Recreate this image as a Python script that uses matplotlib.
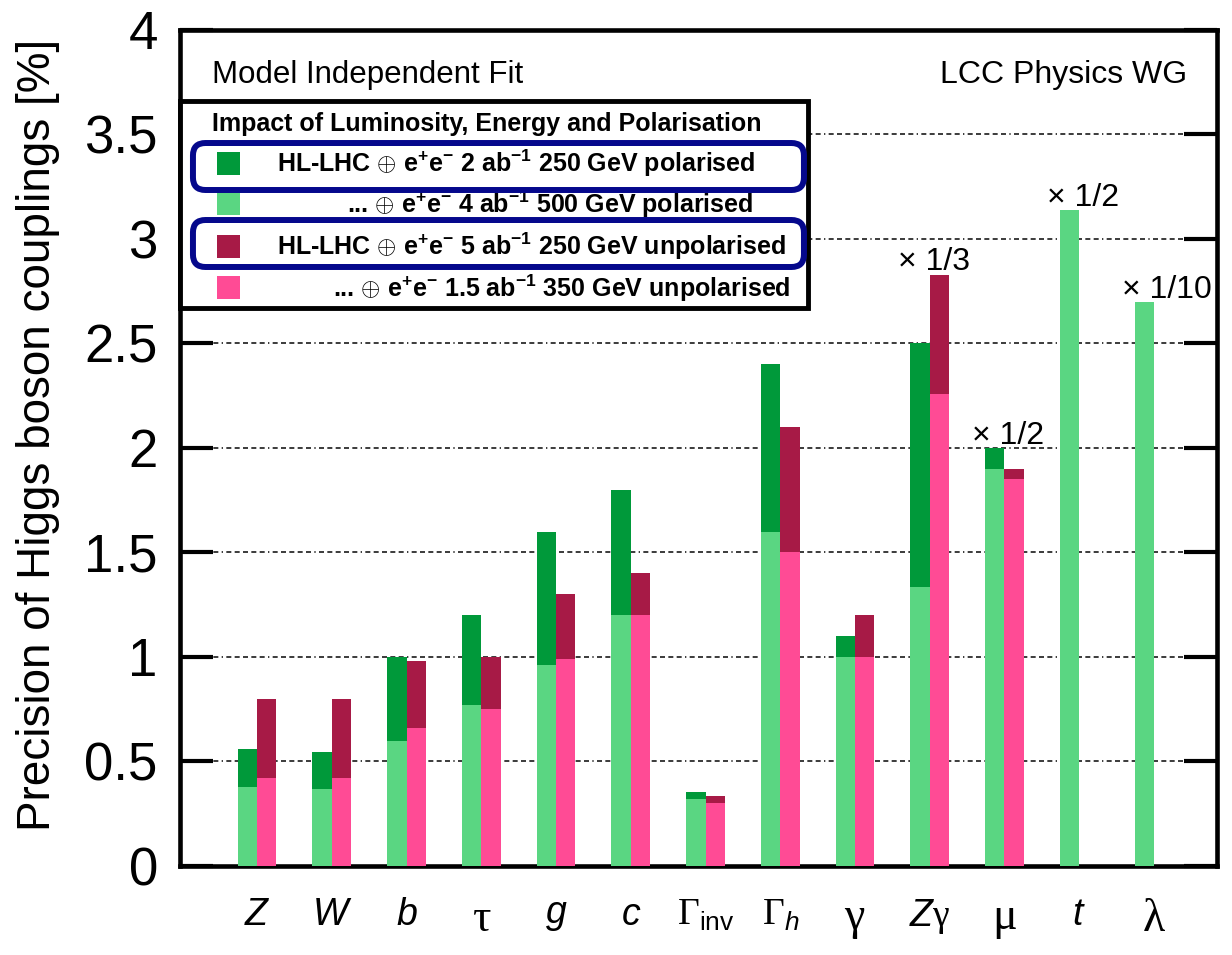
import numpy as np
import matplotlib
matplotlib.use('Agg')
import matplotlib.pyplot as plt
from matplotlib.patches import Rectangle, FancyBboxPatch

plt.rcParams['font.family'] = ['Liberation Sans', 'DejaVu Sans']
plt.rcParams['mathtext.fontset'] = 'custom'
plt.rcParams['mathtext.rm'] = 'Liberation Serif'
plt.rcParams['mathtext.it'] = 'Liberation Sans:italic'
plt.rcParams['mathtext.bf'] = 'Liberation Sans:bold'
plt.rcParams['mathtext.sf'] = 'Liberation Sans'

# coupling labels
couplings = [r'$Z$', r'$W$', r'$b$', r'$\mathrm{\tau}$', r'$g$', r'$c$',
             r'$\Gamma_{\mathsf{inv}}$', r'$\Gamma_{h}$', r'$\mathrm{\gamma}$',
             r'$Z\mathrm{\gamma}$', r'$\mathrm{\mu}$', r'$t$', r'$\mathrm{\lambda}$']
greek_only = [3, 8, 10, 12]

# relative precision [%] per scenario (nan = not shown)
nan = np.nan
pol_250 = [0.56, 0.545, 1.00, 1.20, 1.60, 1.80, 0.355, 2.40, 1.10, 2.50, 2.00, nan, nan]
pol_500 = [0.38, 0.37, 0.60, 0.77, 0.96, 1.20, 0.32, 1.60, 1.00, 1.335, 1.90, 3.14, 2.70]
unpol_250 = [0.80, 0.80, 0.98, 1.00, 1.30, 1.40, 0.335, 2.10, 1.20, 2.83, 1.90, nan, nan]
unpol_350 = [0.42, 0.42, 0.66, 0.75, 0.99, 1.20, 0.30, 1.50, 1.00, 2.26, 1.85, nan, nan]

# rescaled couplings: index -> factor label
scaled_idx = [9, 10, 11, 12]
scaled_txt = ['\u00d7 1/3', '\u00d7 1/2', '\u00d7 1/2', '\u00d7 1/10']

yticks = [0, 0.5, 1, 1.5, 2, 2.5, 3, 3.5, 4]
ytick_labels = ['0', '0.5', '1', '1.5', '2', '2.5', '3', '3.5', '4']

legend_labels = [
    r'HL-LHC $\oplus$ e$^{\mathbf{+}}$e$^{\mathbf{-}}$ 2 ab$^{\mathbf{-1}}$ 250 GeV polarised',
    r'... $\oplus$ e$^{\mathbf{+}}$e$^{\mathbf{-}}$ 4 ab$^{\mathbf{-1}}$ 500 GeV polarised',
    r'HL-LHC $\oplus$ e$^{\mathbf{+}}$e$^{\mathbf{-}}$ 5 ab$^{\mathbf{-1}}$ 250 GeV unpolarised',
    r'... $\oplus$ e$^{\mathbf{+}}$e$^{\mathbf{-}}$ 1.5 ab$^{\mathbf{-1}}$ 350 GeV unpolarised',
]

c_dgreen = '#00993A'
c_lgreen = '#5AD682'
c_dred = '#A71A46'
c_pink = '#FF4B95'
c_navy = '#05088C'
colors = [c_dgreen, c_lgreen, c_dred, c_pink]

fig = plt.figure(figsize=(12.32, 9.55), dpi=100)
ax = fig.add_axes([0.1461, 0.0932, 0.8417, 0.8754])

x = np.arange(len(couplings))
w = 0.26

ax.bar(x - w / 2, pol_250, width=w, color=c_dgreen, zorder=2)
ax.bar(x - w / 2, pol_500, width=w, color=c_lgreen, zorder=3)
ax.bar(x + w / 2, unpol_250, width=w, color=c_dred, zorder=2)
ax.bar(x + w / 2, unpol_350, width=w, color=c_pink, zorder=3)

# scale-factor notes above the rescaled bars
for i, txt in zip(scaled_idx, scaled_txt):
    top = np.nanmax([pol_250[i], pol_500[i], unpol_250[i], unpol_350[i]])
    ax.text(i - 0.43, top + 0.02, txt, fontsize=23, ha='left', va='baseline', zorder=5)

ax.set_xlim(-1.031, 12.843)
ax.set_ylim(0, 4)
ax.set_xticks(x)
ax.set_xticklabels(couplings, fontsize=27)
for i in greek_only:
    ax.get_xticklabels()[i].set_fontsize(33)
ax.set_yticks(yticks)
ax.set_yticklabels(ytick_labels, fontsize=38)
ax.tick_params(axis='x', length=0, pad=22)
ax.tick_params(axis='y', direction='in', length=24, width=3, left=True, right=True, pad=16)

for sp in ax.spines.values():
    sp.set_linewidth(3.3)

ax.set_axisbelow(True)
ax.yaxis.grid(True, color='#1a1a1a', linewidth=1.2,
              linestyle=(0, (3, 2, 3, 2, 3, 2, 3, 2, 3, 2, 0.8, 2)))

ax.set_ylabel('Precision of Higgs boson couplings [%]', fontsize=33)
ax.yaxis.set_label_coords(-0.1157, 0.5156)

ax.text(0.0309, 0.9366, 'Model Independent Fit', transform=ax.transAxes,
        fontsize=22.5, ha='left', va='baseline')
ax.text(0.971, 0.9366, 'LCC Physics WG', transform=ax.transAxes,
        fontsize=23, ha='right', va='baseline')

# legend panel
ax.add_patch(Rectangle((0, 0.6675), 0.6056, 0.9151 - 0.6675, transform=ax.transAxes,
                       facecolor='white', edgecolor='black', linewidth=3.5,
                       zorder=6, clip_on=False))
ax.text(0.0309, 0.8792, 'Impact of Luminosity, Energy and Polarisation',
        transform=ax.transAxes, fontsize=18, fontweight='bold',
        ha='left', va='baseline', zorder=8)

row_base = [0.8307, 0.7805, 0.7309, 0.6812]
row_x = [0.0935, 0.161, 0.0935, 0.1475]
sq_bottom = [0.8266, 0.7787, 0.7273, 0.6782]
for lab, col, yb, xs, sb in zip(legend_labels, colors, row_base, row_x, sq_bottom):
    ax.add_patch(Rectangle((0.0357, sb), 0.0222, 0.0275, transform=ax.transAxes,
                           facecolor=col, edgecolor='none', zorder=7))
    ax.text(xs, yb, lab, transform=ax.transAxes, fontsize=18, fontweight='bold',
            ha='left', va='baseline', zorder=8)

# highlight frames around the 250 GeV scenarios
for y0, y1 in [(0.8086, 0.8648), (0.7165, 0.7727)]:
    ax.add_patch(FancyBboxPatch((0.0125, y0), 0.6017 - 0.0125, y1 - y0,
                                boxstyle='round,pad=0,rounding_size=0.012',
                                mutation_aspect=1037 / 836, transform=ax.transAxes,
                                facecolor='none', edgecolor=c_navy, linewidth=4.3,
                                zorder=9))

fig.savefig('out.png', dpi=100)
